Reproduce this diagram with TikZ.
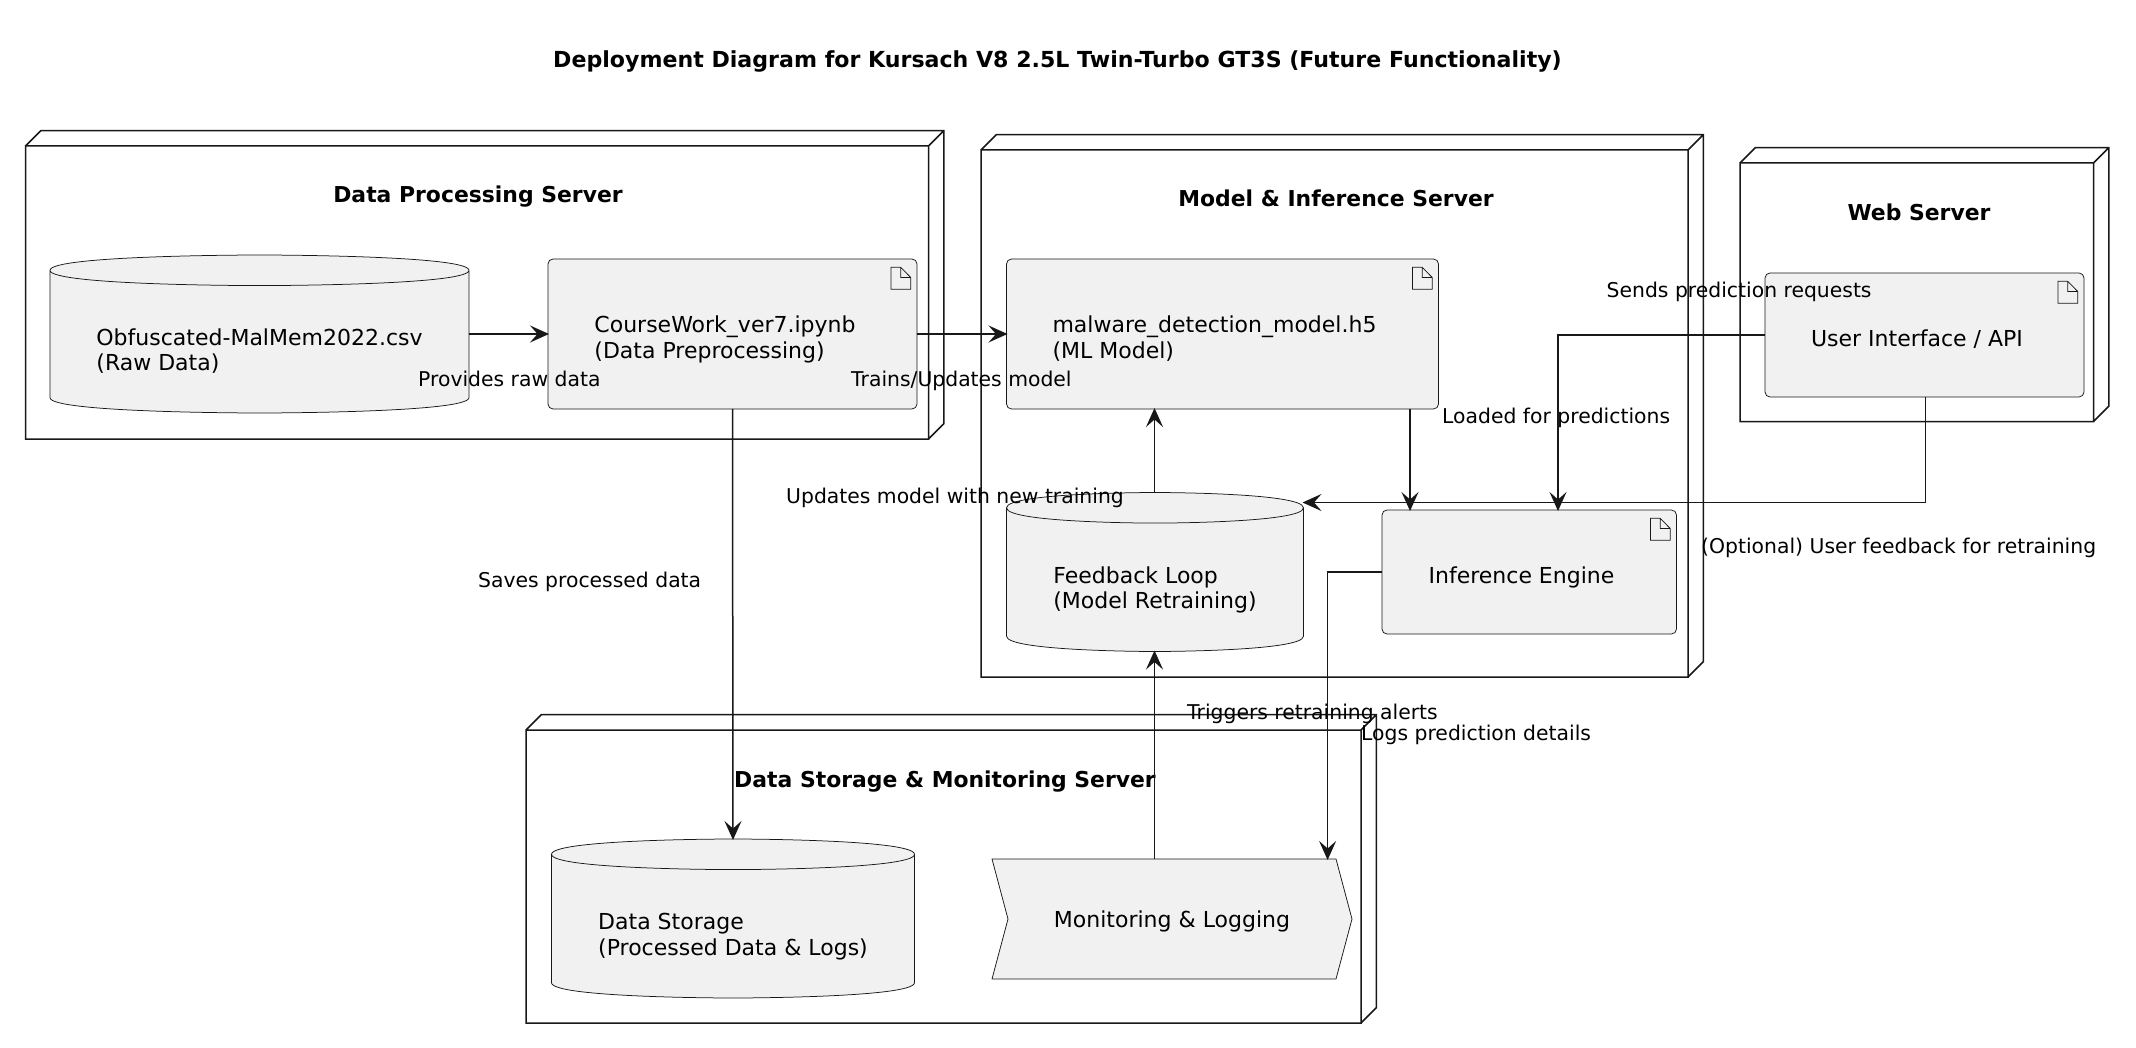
\documentclass[tikz,border=0pt]{standalone}
\usepackage{fontspec}
\setmainfont{DejaVu Sans}
\usetikzlibrary{arrows.meta,calc}
\definecolor{boxfill}{HTML}{F1F1F1}
\definecolor{ink}{HTML}{181818}
\newdimen\rxl \newdimen\rxr \newdimen\ryt \newdimen\ryb \newdimen\rym
\newcommand\ptq[2]{\pgfqpoint{\dimexpr#1\relax}{\dimexpr#2\relax}}
\makeatletter
\pgfdeclareshape{dbcyl}{
  \inheritsavedanchors[from=rectangle]
  \inheritanchorborder[from=rectangle]
  \inheritanchor[from=rectangle]{center}
  \inheritanchor[from=rectangle]{north}
  \inheritanchor[from=rectangle]{south}
  \inheritanchor[from=rectangle]{east}
  \inheritanchor[from=rectangle]{west}
  \inheritanchor[from=rectangle]{north east}
  \inheritanchor[from=rectangle]{north west}
  \inheritanchor[from=rectangle]{south east}
  \inheritanchor[from=rectangle]{south west}
  \backgroundpath{
    \southwest \rxl=\pgf@x \ryb=\pgf@y
    \northeast \rxr=\pgf@x \ryt=\pgf@y
    \rym=\dimexpr(\rxl+\rxr)/2\relax
    \pgfpathmoveto{\ptq{\rxl}{\ryt-15.3pt}}
    \pgfpathcurveto{\ptq{\rxl}{\ryt}}{\ptq{\rym}{\ryt}}{\ptq{\rym}{\ryt}}
    \pgfpathcurveto{\ptq{\rym}{\ryt}}{\ptq{\rxr}{\ryt}}{\ptq{\rxr}{\ryt-15.3pt}}
    \pgfpathlineto{\ptq{\rxr}{\ryb+15.3pt}}
    \pgfpathcurveto{\ptq{\rxr}{\ryb}}{\ptq{\rym}{\ryb}}{\ptq{\rym}{\ryb}}
    \pgfpathcurveto{\ptq{\rym}{\ryb}}{\ptq{\rxl}{\ryb}}{\ptq{\rxl}{\ryb+15.3pt}}
    \pgfpathclose
    \pgfpathmoveto{\ptq{\rxr}{\ryt-15.3pt}}
    \pgfpathcurveto{\ptq{\rxr}{\ryt-30.6pt}}{\ptq{\rym}{\ryt-30.6pt}}{\ptq{\rym}{\ryt-30.6pt}}
    \pgfpathcurveto{\ptq{\rym}{\ryt-30.6pt}}{\ptq{\rxl}{\ryt-30.6pt}}{\ptq{\rxl}{\ryt-15.3pt}}
  }
}
\pgfdeclareshape{artifactbox}{
  \inheritsavedanchors[from=rectangle]
  \inheritanchorborder[from=rectangle]
  \inheritanchor[from=rectangle]{center}
  \inheritanchor[from=rectangle]{north}
  \inheritanchor[from=rectangle]{south}
  \inheritanchor[from=rectangle]{east}
  \inheritanchor[from=rectangle]{west}
  \inheritanchor[from=rectangle]{north east}
  \inheritanchor[from=rectangle]{north west}
  \inheritanchor[from=rectangle]{south east}
  \inheritanchor[from=rectangle]{south west}
  \backgroundpath{
    \southwest \rxl=\pgf@x \ryb=\pgf@y
    \northeast \rxr=\pgf@x \ryt=\pgf@y
    {\pgfsetcornersarced{\pgfqpoint{5pt}{5pt}}
     \pgfpathrectanglecorners{\ptq{\rxl}{\ryb}}{\ptq{\rxr}{\ryt}}}
    \pgfpathmoveto{\ptq{\rxr-26pt}{\ryt-8.3pt}}
    \pgfpathlineto{\ptq{\rxr-26pt}{\ryt-30.3pt}}
    \pgfpathlineto{\ptq{\rxr-6.3pt}{\ryt-30.3pt}}
    \pgfpathlineto{\ptq{\rxr-6.3pt}{\ryt-18.5pt}}
    \pgfpathlineto{\ptq{\rxr-16.3pt}{\ryt-8.3pt}}
    \pgfpathclose
    \pgfpathmoveto{\ptq{\rxr-16.3pt}{\ryt-8.3pt}}
    \pgfpathlineto{\ptq{\rxr-16.3pt}{\ryt-18.5pt}}
    \pgfpathlineto{\ptq{\rxr-6.3pt}{\ryt-18.5pt}}
  }
}
\pgfdeclareshape{chevronbox}{
  \inheritsavedanchors[from=rectangle]
  \inheritanchorborder[from=rectangle]
  \inheritanchor[from=rectangle]{center}
  \inheritanchor[from=rectangle]{north}
  \inheritanchor[from=rectangle]{south}
  \inheritanchor[from=rectangle]{east}
  \inheritanchor[from=rectangle]{west}
  \inheritanchor[from=rectangle]{north east}
  \inheritanchor[from=rectangle]{north west}
  \inheritanchor[from=rectangle]{south east}
  \inheritanchor[from=rectangle]{south west}
  \backgroundpath{
    \southwest \rxl=\pgf@x \ryb=\pgf@y
    \northeast \rxr=\pgf@x \ryt=\pgf@y
    \rym=\dimexpr(\ryt+\ryb)/2\relax
    \pgfpathmoveto{\ptq{\rxl}{\ryt}}
    \pgfpathlineto{\ptq{\rxr-16pt}{\ryt}}
    \pgfpathlineto{\ptq{\rxr}{\rym}}
    \pgfpathlineto{\ptq{\rxr-16pt}{\ryb}}
    \pgfpathlineto{\ptq{\rxl}{\ryb}}
    \pgfpathlineto{\ptq{\rxl+16pt}{\rym}}
    \pgfpathclose
  }
}
\pgfdeclareshape{servernode}{
  \inheritsavedanchors[from=rectangle]
  \inheritanchorborder[from=rectangle]
  \inheritanchor[from=rectangle]{center}
  \inheritanchor[from=rectangle]{north}
  \inheritanchor[from=rectangle]{south}
  \inheritanchor[from=rectangle]{east}
  \inheritanchor[from=rectangle]{west}
  \inheritanchor[from=rectangle]{north east}
  \inheritanchor[from=rectangle]{north west}
  \inheritanchor[from=rectangle]{south east}
  \inheritanchor[from=rectangle]{south west}
  \backgroundpath{
    \southwest \rxl=\pgf@x \ryb=\pgf@y
    \northeast \rxr=\pgf@x \ryt=\pgf@y
    \pgfpathrectanglecorners{\ptq{\rxl}{\ryb}}{\ptq{\rxr}{\ryt}}
    \pgfpathmoveto{\ptq{\rxl}{\ryt}}
    \pgfpathlineto{\ptq{\rxl+15.3pt}{\ryt+15.3pt}}
    \pgfpathlineto{\ptq{\rxr+15.3pt}{\ryt+15.3pt}}
    \pgfpathlineto{\ptq{\rxr+15.3pt}{\ryb+15.3pt}}
    \pgfpathlineto{\ptq{\rxr}{\ryb}}
    \pgfpathmoveto{\ptq{\rxr}{\ryt}}
    \pgfpathlineto{\ptq{\rxr+15.3pt}{\ryt+15.3pt}}
  }
}
\makeatother
% #1 spare room right of the text, #2 how far the text sits below the node centre, #3 text
\newcommand\lbl[3]{\begin{tabular}{@{}l@{\hspace{#1}}}\rule{0pt}{\dimexpr17.92pt+2\dimexpr#2\relax\relax}#3\end{tabular}}
\tikzset{
  x=1pt,y=-1pt,
  basetext/.style={font=\fontsize{22}{25.6}\selectfont,text=black},
  place/.style n args={2}{anchor=north west,minimum width=#1 pt,minimum height=#2 pt,inner sep=0pt,outer sep=0pt},
  server/.style n args={2}{shape=servernode,draw=ink,line width=1.5pt,place={#1}{#2}},
  db/.style n args={2}{shape=dbcyl,draw=ink,line width=0.75pt,fill=boxfill,basetext,place={#1}{#2}},
  art/.style n args={2}{shape=artifactbox,draw=ink,line width=0.75pt,fill=boxfill,basetext,place={#1}{#2}},
  chev/.style n args={2}{shape=chevronbox,draw=ink,line width=0.75pt,fill=boxfill,basetext,place={#1}{#2}},
  srvtitle/.style={font=\fontsize{21.9}{25}\bfseries\selectfont,text=black,anchor=base,inner sep=0pt},
  linklabel/.style={font=\fontsize{20.35}{23}\selectfont,text=black,anchor=base west,inner sep=0pt},
  link/.style={draw=ink,line width=1.5pt,shorten >=-1pt,-{Stealth[length=19pt,width=17pt,inset=7.5pt]}},
}
\begin{document}
\begin{tikzpicture}
\useasboundingbox (0,0) rectangle (2136,1048);
\fill[white] (0,0) rectangle (2136,1048);
\node[font=\fontsize{22.1}{25}\bfseries\selectfont,anchor=base,inner sep=0pt] (title) at (1057.5,67.5) {Deployment Diagram for Kursach V8 2.5L Twin-Turbo GT3S (Future Functionality)};

% servers
\node[server={903}{293}] (dps) at (25.5,146) {};
\node[server={707}{527}] (mis) at (981,150) {};
\node[server={353.5}{258.5}] (web) at (1740,163) {};
\node[server={835}{293}] (dsm) at (526,730) {};
\node[srvtitle] (dpstitle) at (478,203) {Data Processing Server};
\node[srvtitle] (mistitle) at (1336,207) {Model \& Inference Server};
\node[srvtitle] (webtitle) at (1919,221) {Web Server};
\node[srvtitle] (dsmtitle) at (945,787) {Data Storage \& Monitoring Server};

% elements
\node[db={419}{158}] (raw) at (50,255) {\lbl{0pt}{19pt}{Obfuscated-MalMem2022.csv\\(Raw Data)}};
\node[art={369}{150}] (cw) at (548,259) {\lbl{15pt}{6.5pt}{CourseWork\_ver7.ipynb\\(Data Preprocessing)}};
\node[art={432}{150}] (ml) at (1006.5,259) {\lbl{16pt}{6.5pt}{malware\_detection\_model.h5\\(ML Model)}};
\node[db={297}{159}] (fb) at (1006.5,492.5) {\lbl{0pt}{19pt}{Feedback Loop\\(Model Retraining)}};
\node[art={294.5}{124}] (inf) at (1382,510) {\lbl{15.5pt}{6pt}{Inference Engine}};
\node[art={319}{124}] (ui) at (1765,273) {\lbl{15pt}{6pt}{User Interface / API}};
\node[db={363}{159}] (store) at (551.5,839) {\lbl{0pt}{19pt}{Data Storage\\(Processed Data \& Logs)}};
\node[chev={360}{120}] (mon) at (992,859) {\lbl{0pt}{3.5pt}{Monitoring \& Logging}};

% connectors
\draw[link] (raw.east) -- (cw.west);
\draw[link] (cw.east) -- (ml.west);
\draw[link] (cw.south) -- (store.north);
\draw[link] (1154.5,0 |- fb.north) -- (1154.5,0 |- ml.south);
\draw[link] (1410,0 |- ml.south) -- (1410,0 |- inf.north);
\draw[link] (ui.west) -| (1558,0 |- inf.north);
\draw[link] (1925.5,0 |- ui.south) |- (fb.east |- 0,502.5);
\draw[link] (inf.west) -| (1327.6,0 |- mon.north);
\draw[link] (1154.5,0 |- mon.north) -- (1154.5,0 |- fb.south);

% link labels
\node[linklabel] (l1) at (418,386.5) {Provides raw data};
\node[linklabel] (l2) at (851,386.5) {Trains/Updates model};
\node[linklabel] (l3) at (786,503.5) {Updates model with new training};
\node[linklabel] (l4) at (478,587.5) {Saves processed data};
\node[linklabel] (l5) at (1442,423.5) {Loaded for predictions};
\node[linklabel] (l6) at (1606.5,297.5) {Sends prediction requests};
\node[linklabel] (l7) at (1701,553.5) {(Optional) User feedback for retraining};
\node[linklabel] (l8) at (1187,719.5) {Triggers retraining alerts};
\node[linklabel] (l9) at (1361,740.5) {Logs prediction details};
\end{tikzpicture}
\end{document}
